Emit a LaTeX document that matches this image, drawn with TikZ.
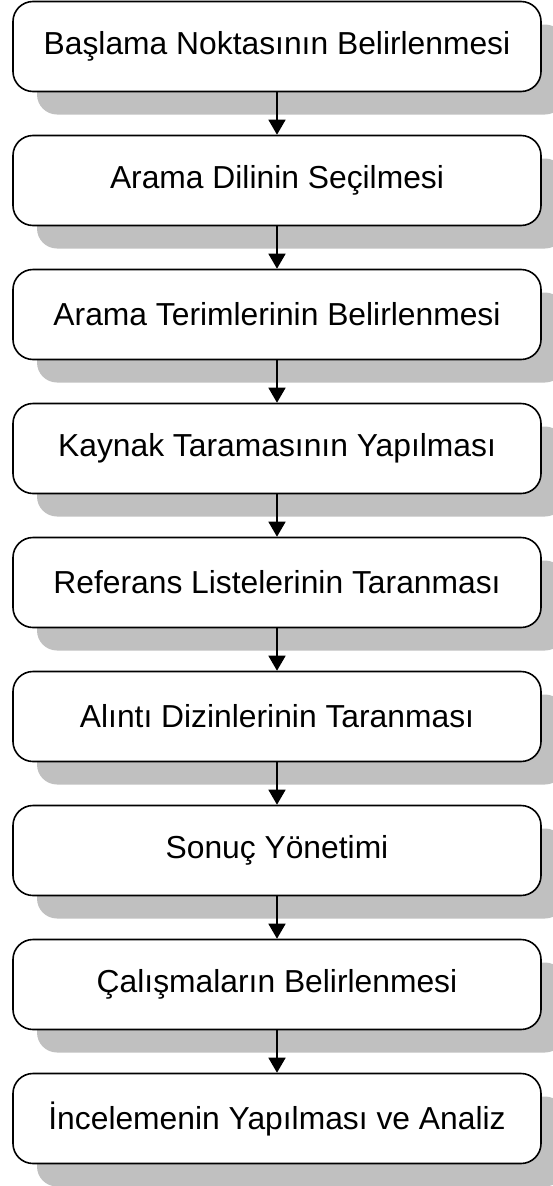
\documentclass[tikz,border=0pt]{standalone}
\usepackage{fontspec}
\setmainfont{Liberation Sans}
\usetikzlibrary{arrows.meta,shadows}
\definecolor{shadowgray}{RGB}{192,192,192}
\begin{document}
\begin{tikzpicture}[x=1pt,y=-1pt,
  stepbox/.style={draw=black, line width=1.6pt, fill=white,
    rounded corners=20pt, minimum width=528pt, minimum height=90pt,
    inner sep=0pt, font=\fontsize{31.8}{38}\selectfont,
    drop shadow={shadow xshift=24pt, shadow yshift=-23pt,
      fill=shadowgray, opacity=1, draw=none}},
  flow/.style={line width=1.6pt, -{Triangle[length=15pt,width=17pt]}}]
  \path[use as bounding box] (0,0) rectangle (552,1186);
  % process steps, top to bottom
  \foreach \i/\txt in {1/Başlama Noktasının Belirlenmesi,
                       2/Arama Dilinin Seçilmesi,
                       3/Arama Terimlerinin Belirlenmesi,
                       4/Kaynak Taramasının Yapılması,
                       5/Referans Listelerinin Taranması,
                       6/Alıntı Dizinlerinin Taranması,
                       7/Sonuç Yönetimi,
                       8/Çalışmaların Belirlenmesi,
                       9/İncelemenin Yapılması ve Analiz}
    \node[stepbox] (n\i) at (277, {46.5+134*(\i-1)}) {\txt};
  % connectors between consecutive steps
  \foreach \i [evaluate=\i as \j using int(\i+1)] in {1,...,8}
    \draw[flow] (n\i.south) -- (n\j.north);
\end{tikzpicture}
\end{document}
